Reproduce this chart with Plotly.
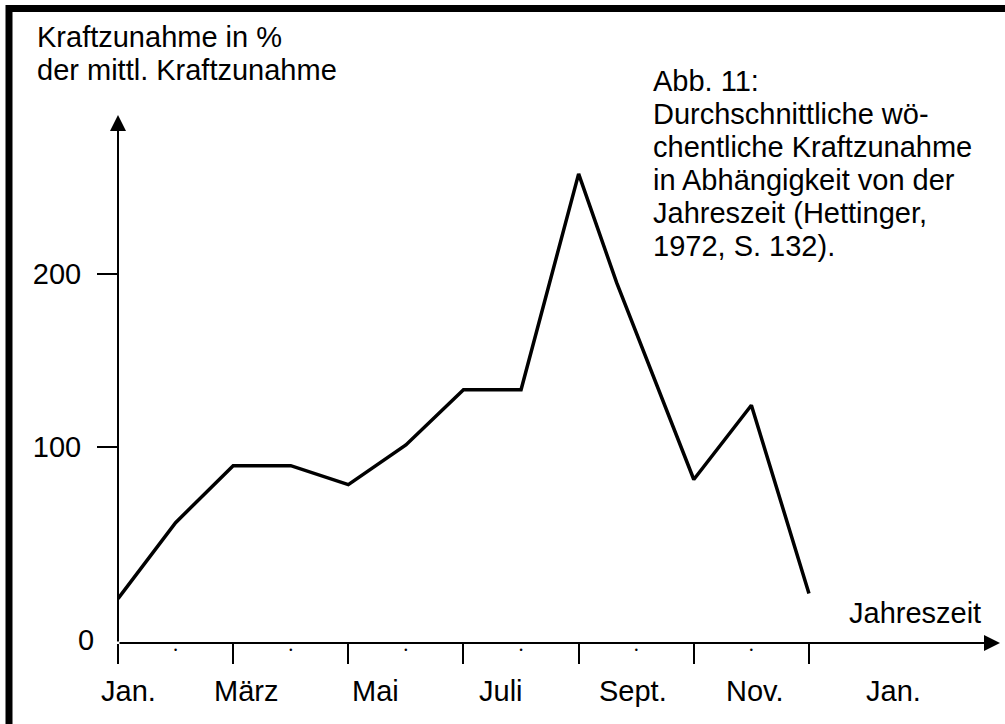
import plotly.graph_objects as go

# Monatsindex: 0 = Jan., 12 = Jan. des Folgejahres
months = [0, 1, 2, 3, 4, 5, 6, 7, 8, 8.66, 10, 11, 12]
kraftzunahme = [12, 56, 89, 89, 78, 101, 133, 133, 258, 195, 81, 124, 15]

tick_months = [0, 2, 4, 6, 8, 10, 12]
dot_months = [1, 3, 5, 7, 9, 11]
month_labels = ["Jan.", "März", "Mai", "Juli", "Sept.", "Nov.", "Jan."]
y_ticks = [100, 200]
y_title = ["Kraftzunahme in %", "der mittl. Kraftzunahme"]
x_title = "Jahreszeit"
caption = [
    "Abb. 11:",
    "Durchschnittliche wö-",
    "chentliche Kraftzunahme",
    "in Abhängigkeit von der",
    "Jahreszeit (Hettinger,",
    "1972, S. 132).",
]

# layout (pixels)
W, H = 1005, 724
L, R, T, B = 118, 5, 115, 81
PW, PH = W - L - R, H - T - B
MONTH_PX = 57.58
Y_MIN, Y_MAX = -13.7, 292.1
FONT = "Liberation Sans, Arial, Helvetica, sans-serif"
FS = 29
label_pos = [0.19, 2.22, 4.48, 6.66, 8.94, 11.05, 13.46]


def px_x(px):
    return (px - L) / PW


def px_y(py):
    return (T + PH - py) / PH


fig = go.Figure()
fig.add_trace(
    go.Scatter(
        x=months,
        y=kraftzunahme,
        mode="lines",
        line=dict(color="black", width=3.5),
        showlegend=False,
        hoverinfo="skip",
    )
)

fig.update_layout(
    width=W,
    height=H,
    margin=dict(l=L, r=R, t=T, b=B, pad=0),
    paper_bgcolor="white",
    plot_bgcolor="white",
    font=dict(family=FONT, size=FS, color="black"),
    showlegend=False,
)
fig.update_xaxes(
    range=[0, PW / MONTH_PX],
    showgrid=False,
    zeroline=False,
    showline=False,
    tickmode="array",
    tickvals=dot_months,
    ticktext=["•"] * len(dot_months),
    tickfont=dict(size=9),
    ticks="",
    minor=dict(
        tickmode="array",
        tickvals=tick_months,
        ticks="outside",
        ticklen=20,
        tickwidth=2,
        tickcolor="black",
    ),
)
fig.update_yaxes(
    range=[Y_MIN, Y_MAX],
    showgrid=False,
    zeroline=False,
    showline=False,
    tickmode="array",
    tickvals=y_ticks,
    ticks="outside",
    ticklen=20,
    tickwidth=2,
    tickcolor="black",
    ticklabelstandoff=10,
)

# Achsen mit Pfeilspitzen
for hx, hy in [(0, 1), (1, 0)]:
    fig.add_annotation(
        x=hx, y=hy, xref="x domain", yref="y domain",
        ax=0, ay=0, axref="x domain", ayref="y domain",
        text="", showarrow=True, arrowhead=2, arrowsize=1.6,
        arrowwidth=2, arrowcolor="black", standoff=0,
    )

# Monatsbeschriftung
for pos, lab in zip(label_pos, month_labels):
    fig.add_annotation(
        x=pos, xref="x", y=px_y(691), yref="paper",
        text=lab, showarrow=False, xanchor="center", yanchor="middle",
    )

fig.add_annotation(
    x=px_x(85.5), y=px_y(640), xref="paper", yref="paper",
    text="0", showarrow=False, xanchor="center", yanchor="middle",
)
fig.add_annotation(
    x=px_x(847), y=px_y(612.5), xref="paper", yref="paper",
    text=x_title, showarrow=False, xanchor="left", yanchor="middle",
)
for i, line in enumerate(y_title):
    fig.add_annotation(
        x=px_x(35), y=px_y(36.7 + 33.3 * i), xref="paper", yref="paper",
        text=line, showarrow=False, xanchor="left", yanchor="middle",
    )
for i, line in enumerate(caption):
    fig.add_annotation(
        x=px_x(651), y=px_y(81 + 33 * i), xref="paper", yref="paper",
        text=line, showarrow=False, xanchor="left", yanchor="middle",
    )

# Rahmen (oben und links sichtbar)
fig.add_shape(
    type="rect", xref="paper", yref="paper",
    x0=px_x(9), y0=-1, x1=1.5, y1=px_y(8.5),
    line=dict(color="black", width=7),
)

# figure flush with the page corner (no default body margin), no modebar
fig.write_html(
    "out.html",
    config={"displayModeBar": False},
    post_script="document.body.style.margin='0';document.body.style.overflow='hidden';",
)
